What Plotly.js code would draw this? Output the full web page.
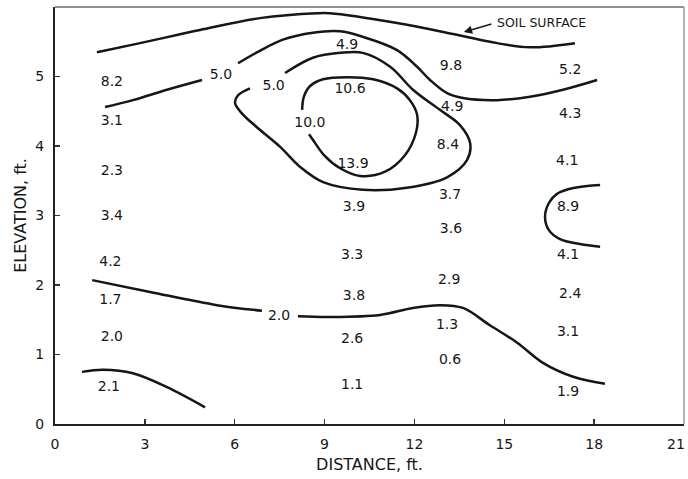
<!DOCTYPE html>
<html>
<head>
<meta charset="utf-8">
<script src="https://cdn.plot.ly/plotly-3.0.1.min.js"></script>
<style>
  html, body { margin: 0; padding: 0; background: #fff; }
  #chart { width: 688px; height: 479px; }
</style>
</head>
<body>
<div id="chart"></div>
<script>
// Measured values at the sampling points (distance, elevation in ft)
const sampleX = [1.9, 1.9, 1.9, 1.9, 1.85, 1.85, 1.9, 1.8,
                 9.75, 9.85, 9.95, 9.98, 9.92, 9.98, 9.92, 9.92,
                 13.22, 13.26, 13.12, 13.19, 13.22, 13.16, 13.09, 13.19,
                 17.2, 17.2, 17.1, 17.13, 17.13, 17.2, 17.13, 17.13];
const sampleY = [4.92, 4.35, 3.63, 2.98, 2.33, 1.78, 1.24, 0.53,
                 5.45, 4.81, 3.73, 3.12, 2.43, 1.83, 1.21, 0.56,
                 5.14, 4.56, 4.01, 3.29, 2.80, 2.07, 1.42, 0.92,
                 5.09, 4.45, 3.77, 3.12, 2.43, 1.86, 1.31, 0.46];
const sampleVal = [8.2, 3.1, 2.3, 3.4, 4.2, 1.7, 2.0, 2.1,
                   4.9, 10.6, 13.9, 3.9, 3.3, 3.8, 2.6, 1.1,
                   9.8, 4.9, 8.4, 3.7, 3.6, 2.9, 1.3, 0.6,
                   5.2, 4.3, 4.1, 8.9, 4.1, 2.4, 3.1, 1.9];

// Ground line
const soilX = [1.40, 2.84, 4.84, 6.84, 8.75, 9.18, 11.42, 13.42, 14.76, 15.86, 17.36];
const soilY = [5.35, 5.48, 5.67, 5.84, 5.91, 5.91, 5.77, 5.60, 5.48, 5.42, 5.48];

// Outer 5.0 isoline (gap where it is labelled)
const outer5X = [1.67, 2.60, 3.74, 4.91, null, 6.11, 6.84, 7.61, 8.61, 9.52, 10.28, 11.42,
                 12.09, 12.52, 13.09, 13.62, 14.76, 15.86, 16.96, 18.10];
const outer5Y = [4.56, 4.66, 4.81, 4.95, null, 5.19, 5.37, 5.53, 5.63, 5.65, 5.57, 5.38,
                 5.14, 4.95, 4.76, 4.69, 4.66, 4.71, 4.81, 4.95];

// Inner 5.0 isoline, a near-closed loop
const inner5X = [7.68, 8.61, 9.52, 10.28, 11.19, 11.95, 12.85, 13.52, 13.86, 13.76, 13.09,
                 11.75, 10.28, 8.95, 8.18, 7.51, 6.74, 6.24, 6.01, 6.11, 6.51];
const inner5Y = [5.05, 5.27, 5.34, 5.34, 5.14, 4.81, 4.52, 4.30, 4.04, 3.80, 3.55,
                 3.40, 3.37, 3.48, 3.70, 3.99, 4.27, 4.47, 4.62, 4.73, 4.83];

// 10.0 isoline
const iso10X = [8.25, 8.31, 8.51, 8.95, 9.75, 10.62, 11.42, 11.85, 12.09, 12.05, 11.69,
                11.02, 10.18, 9.52, 8.98, 8.61, 8.48];
const iso10Y = [4.52, 4.71, 4.86, 4.96, 4.99, 4.96, 4.83, 4.66, 4.45, 4.19, 3.87,
                3.63, 3.57, 3.68, 3.87, 4.09, 4.17];

// Isoline around the 8.9 reading on the right
const right9X = [18.20, 17.36, 16.79, 16.49, 16.36, 16.49, 16.86, 17.53, 18.20];
const right9Y = [3.44, 3.40, 3.32, 3.18, 2.98, 2.79, 2.66, 2.59, 2.55];

// 2.0 isoline across the lower section
const iso2X = [1.24, 3.17, 5.41, 6.91, null, 8.11, 9.18, 10.85, 11.95, 12.85, 13.62,
               14.52, 15.43, 16.29, 17.30, 18.36];
const iso2Y = [2.07, 1.90, 1.71, 1.63, null, 1.55, 1.54, 1.57, 1.67, 1.71, 1.67,
               1.42, 1.17, 0.88, 0.68, 0.58];

// Short isoline at the lower left
const lowX = [0.90, 1.60, 2.60, 3.74, 5.01];
const lowY = [0.75, 0.78, 0.73, 0.53, 0.24];

// Isoline labels
const isoLabelX = [5.54, 7.30, 8.51, 7.48];
const isoLabelY = [5.02, 4.85, 4.33, 1.55];
const isoLabelVal = [5.0, 5.0, 10.0, 2.0];

const xTicks = [0, 3, 6, 9, 12, 15, 18, 21];
const xTickLabels = ['0', '3', '6', '9', '12', '15', '18', '21'];
const yTicks = [0, 1, 2, 3, 4, 5, 6];

const ink = '#161616';
const fontFam = 'DejaVu Sans, Verdana, sans-serif';
const xRange = [0, 21];

function isoline(x, y, xa) {
  return {
    type: 'scatter', mode: 'lines', x: x, y: y, connectgaps: false,
    xaxis: xa || 'x',
    line: { color: ink, width: 2.5, shape: 'spline', smoothing: 1 },
    hoverinfo: 'skip', showlegend: false
  };
}

const traces = [
  isoline(soilX, soilY),
  isoline(outer5X, outer5Y),
  isoline(inner5X, inner5Y),
  isoline(iso10X, iso10Y),
  isoline(right9X, right9Y),
  isoline(iso2X, iso2Y),
  // drawn against the twin distance axis, which shares the same range
  isoline(lowX, lowY, 'x2'),
  {
    type: 'scatter', mode: 'text', x: sampleX, y: sampleY,
    text: sampleVal.map(v => v.toFixed(1)),
    textfont: { family: fontFam, size: 14, color: ink },
    textposition: 'middle center', showlegend: false, hoverinfo: 'skip'
  },
  {
    type: 'scatter', mode: 'text', x: isoLabelX, y: isoLabelY,
    text: isoLabelVal.map(v => v.toFixed(1)),
    textfont: { family: fontFam, size: 14, color: ink },
    textposition: 'middle center', showlegend: false, hoverinfo: 'skip'
  }
];

const axisCommon = {
  showgrid: false, zeroline: false,
  showline: true, linecolor: '#222', linewidth: 2,
  ticks: 'inside', ticklen: 5, tickwidth: 1.5, tickcolor: '#333',
  tickfont: { family: fontFam, size: 14, color: ink },
  ticklabelstandoff: 6,
  fixedrange: true
};

// The corner label (21) sits just inside the frame, so it is carried by a
// twin axis whose labels are nudged left; the main axis leaves it blank.
const lastX = xTickLabels.length - 1;
const mainTickText = xTickLabels.map((t, i) => i === lastX ? '' : t);

const layout = {
  width: 688, height: 479,
  margin: { l: 55, r: 4, t: 7, b: 55 },
  paper_bgcolor: '#fff', plot_bgcolor: '#fff',
  font: { family: fontFam, color: ink },
  xaxis: Object.assign({}, axisCommon, {
    range: xRange, tickvals: xTicks, ticktext: mainTickText,
    title: { text: 'DISTANCE, ft.', font: { family: fontFam, size: 16, color: ink }, standoff: 8 }
  }),
  xaxis2: Object.assign({}, axisCommon, {
    overlaying: 'x', side: 'bottom', anchor: 'y', range: xRange,
    tickvals: [xTicks[lastX]], ticktext: [xTickLabels[lastX]],
    linecolor: 'rgba(0,0,0,0)', tickcolor: 'rgba(0,0,0,0)',
    ticklabelshift: -8, ticklabeloverflow: 'allow'
  }),
  yaxis: Object.assign({}, axisCommon, {
    range: [0, 6], tickvals: yTicks,
    title: { text: 'ELEVATION, ft.', font: { family: fontFam, size: 16, color: ink }, standoff: 5 }
  }),
  shapes: [
    { type: 'line', xref: 'paper', yref: 'paper', x0: 0, x1: 1, y0: 1, y1: 1,
      line: { color: '#6a6a6a', width: 1.6 } },
    { type: 'line', xref: 'paper', yref: 'paper', x0: 1, x1: 1, y0: 0, y1: 1,
      line: { color: '#8a8a8a', width: 1.3 } }
  ],
  annotations: [
    {
      x: 13.65, y: 5.64, xref: 'x', yref: 'y',
      ax: 14.7, ay: 5.77, axref: 'x', ayref: 'y',
      text: 'SOIL SURFACE', xanchor: 'left', yanchor: 'middle',
      font: { family: fontFam, size: 12.5, color: ink },
      showarrow: true, arrowhead: 2, arrowsize: 1.1, arrowwidth: 1.5, arrowcolor: ink,
      standoff: 0, startstandoff: 4
    }
  ]
};

Plotly.newPlot('chart', traces, layout, { displayModeBar: false, staticPlot: true });
</script>
</body>
</html>
